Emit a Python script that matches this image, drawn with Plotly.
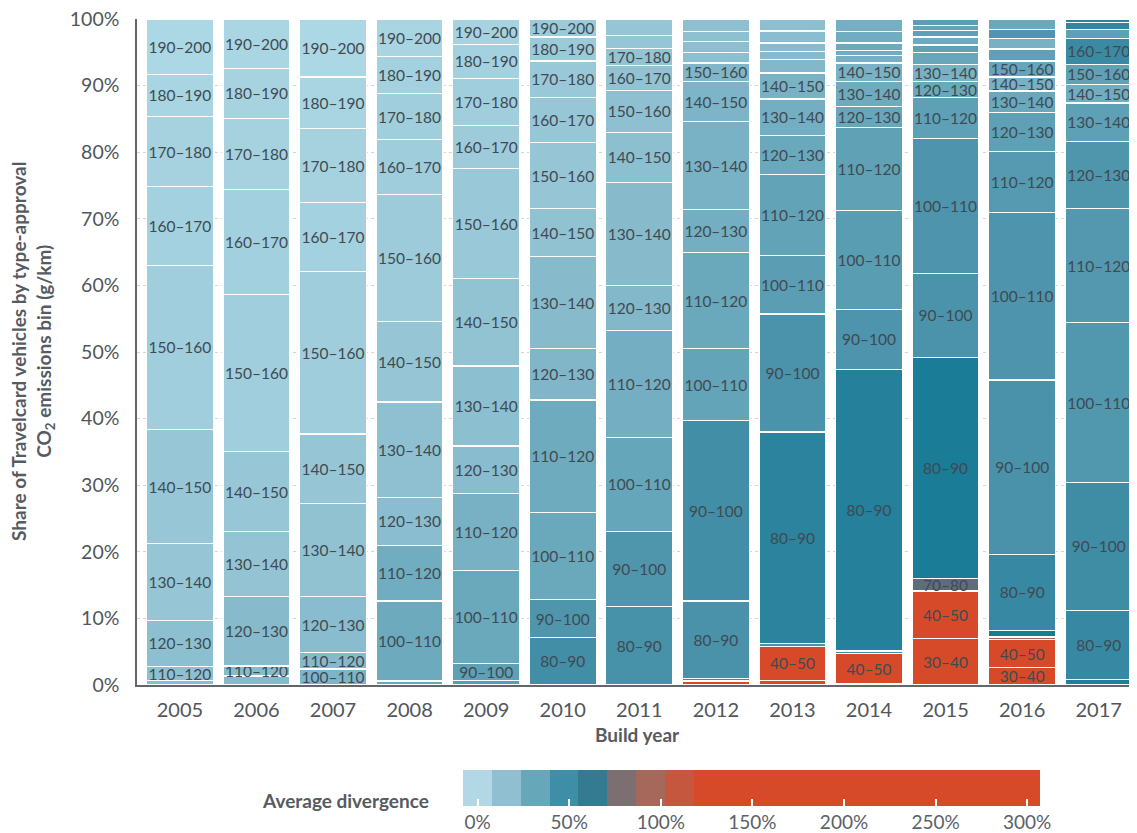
import plotly.graph_objects as go

FONT = "Lato"

years = [2005, 2006, 2007, 2008, 2009, 2010, 2011, 2012, 2013, 2014, 2015, 2016, 2017]
bins = ["30–40", "40–50", "50–60", "60–70", "70–80", "80–90", "90–100", "100–110",
        "110–120", "120–130", "130–140", "140–150", "150–160", "160–170",
        "170–180", "180–190", "190–200"]

# share (%) of vehicles in each bin, bottom (30–40) to top (190–200)
s2005 = [0, 0, 0, 0, 0, 0, 0, 0.65, 2.15, 6.9, 11.5, 17.2, 24.6, 11.8, 10.6, 6.3, 8.3]
s2006 = [0, 0, 0, 0, 0, 0, 0, 1.35, 1.5, 10.45, 9.7, 12.1, 23.5, 15.8, 10.7, 7.5, 7.4]
s2007 = [0, 0, 0, 0, 0, 0, 0, 2.4, 2.45, 8.45, 13.9, 10.5, 24.4, 10.4, 11.0, 7.8, 8.7]
s2008 = [0, 0, 0, 0, 0, 0, 0.6, 12.0, 8.4, 7.2, 14.3, 12.1, 19.1, 8.2, 6.9, 5.6, 5.6]
s2009 = [0, 0, 0, 0, 0, 0.65, 2.55, 14.0, 11.6, 7.1, 12.0, 13.1, 16.5, 6.5, 7.1, 5.1, 3.8]
s2010 = [0, 0, 0, 0, 0, 7.1, 5.7, 13.1, 16.9, 7.7, 13.8, 7.2, 9.9, 6.8, 5.5, 3.6, 2.7]
s2011 = [0, 0, 0, 0, 0, 11.8, 11.3, 14.1, 16.0, 6.8, 15.5, 7.5, 6.3, 3.7, 2.6, 1.9, 2.5]
s2012 = [0, 0.6, 0.4, 0, 0, 11.6, 27.1, 10.8, 14.4, 6.5, 13.2, 6.0, 2.8, 1.6, 1.6, 1.5, 1.9]
s2013 = [0.7, 5.1, 0, 0, 0.4, 31.8, 17.7, 8.8, 12.1, 5.9, 5.5, 3.9, 2.0, 1.2, 1.3, 1.8, 1.8]
s2014 = [0.2, 4.5, 0, 0, 0.4, 42.3, 9.0, 14.8, 12.5, 3.2, 3.7, 2.8, 1.1, 0.8, 1.1, 1.7, 1.9]
s2015 = [7.0, 7.1, 0, 0, 1.9, 33.2, 12.6, 20.3, 6.1, 2.4, 2.6, 1.8, 1.1, 1.2, 1.0, 0.7, 1.0]
s2016 = [2.6, 4.2, 0.4, 0, 1.0, 11.4, 26.2, 25.1, 9.2, 5.9, 3.2, 2.1, 2.4, 1.8, 1.6, 1.3, 1.6]
s2017 = [0, 0, 0, 0, 0.8, 10.4, 19.2, 24.0, 17.1, 10.1, 5.8, 2.8, 3.0, 3.9, 1.3, 1.1, 0.5]

# average divergence (%) of each bin
d2005 = [0, 0, 0, 0, 0, 0, 0, 25, 22, 23, 18, 17, 12, 10, 9, 7, 5]
d2006 = [0, 0, 0, 0, 0, 0, 0, 27, 26, 26, 19, 17, 12, 11, 9, 8, 6]
d2007 = [0, 0, 0, 0, 0, 0, 0, 31, 27, 25, 21, 18, 13, 10, 9, 7, 5]
d2008 = [0, 0, 0, 0, 0, 0, 40, 38, 36, 24, 22, 18, 14, 13, 12, 10, 7]
d2009 = [0, 0, 0, 0, 0, 47, 45, 39, 33, 25, 23, 20, 16, 14, 12, 10, 8]
d2010 = [0, 0, 0, 0, 0, 58, 52, 39, 37, 29, 26, 21, 18, 17, 16, 15, 15]
d2011 = [0, 0, 0, 0, 0, 56, 52, 41, 35, 28, 26, 23, 22, 20, 19, 18, 18]
d2012 = [0, 150, 100, 0, 0, 55, 58, 42, 39, 35, 32, 31, 29, 23, 23, 22, 22]
d2013 = [150, 150, 0, 0, 55, 69, 54, 46, 43, 39, 35, 32, 28, 26, 25, 24, 23]
d2014 = [150, 150, 0, 0, 60, 73, 53, 47, 44, 40, 37, 32, 34, 36, 38, 36, 34]
d2015 = [150, 150, 0, 0, 90, 78, 54, 53, 45, 39, 32, 40, 44, 38, 45, 42, 46]
d2016 = [150, 150, 100, 0, 80, 64, 55, 53, 49, 45, 39, 33, 41, 45, 33, 52, 39]
d2017 = [0, 0, 0, 0, 75, 64, 60, 51, 50, 52, 45, 36, 44, 62, 45, 66, 68]

legend_ticks = [0, 50, 100, 150, 200, 250, 300]

shares = dict(zip(years, [s2005, s2006, s2007, s2008, s2009, s2010, s2011,
                          s2012, s2013, s2014, s2015, s2016, s2017]))
divs = dict(zip(years, [d2005, d2006, d2007, d2008, d2009, d2010, d2011,
                        d2012, d2013, d2014, d2015, d2016, d2017]))

unlabeled = {(2011, "190–200"), (2013, "150–160")}
extra_labels = {(2006, "110–120"), (2015, "70–80")}

bar_scale = [
    [0 / 300, "#b4dce8"], [10 / 300, "#a4d1df"], [20 / 300, "#92c3d3"],
    [30 / 300, "#7fb5c8"], [40 / 300, "#68a7bb"], [50 / 300, "#5398af"],
    [60 / 300, "#3f8ca5"], [70 / 300, "#2a829d"], [80 / 300, "#167b96"],
    [90 / 300, "#5e6e78"], [100 / 300, "#9a6a60"], [115 / 300, "#c5573e"],
    [130 / 300, "#d64a2a"], [1.0, "#d64a2a"],
]

legend_colors = ["#b1d8e4", "#8fbfd0", "#67a7ba", "#3e8ea8", "#347a90",
                 "#7b6f72", "#a5685b", "#c5573e", "#d64a2a"]
legend_scale = []
for k, c in enumerate(legend_colors):
    lo = 0.05 * k
    hi = 0.05 * (k + 1) if k < len(legend_colors) - 1 else 1.0
    legend_scale += [[lo, c], [hi, c]]

fig = go.Figure()
xcats = [str(y) for y in years]
for i, b in enumerate(bins):
    yv, cv, tv = [], [], []
    for yr in years:
        v = shares[yr][i]
        yv.append(v if v > 0 else None)
        cv.append(divs[yr][i])
        show = (v >= 2.0 and (yr, b) not in unlabeled) or (yr, b) in extra_labels
        tv.append(b if (v > 0 and show) else None)
    fig.add_trace(go.Bar(
        x=xcats, y=yv, text=tv,
        textposition="inside", insidetextanchor="middle", textangle=0,
        textfont=dict(family=FONT, size=15.5, color="#3f4a52"),
        marker=dict(color=cv, colorscale=bar_scale, cmin=0, cmax=300,
                    line=dict(color="white", width=1.2)),
        hoverinfo="skip", showlegend=False,
    ))

fig.add_trace(go.Scatter(
    x=[None], y=[None], mode="markers", showlegend=False, hoverinfo="skip",
    marker=dict(
        color=[0], colorscale=legend_scale, cmin=-8, cmax=307, showscale=True,
        colorbar=dict(
            orientation="h", xref="paper", yref="paper",
            x=0.6145, xanchor="center", y=-0.1276, yanchor="top",
            len=577, lenmode="pixels", thickness=36, thicknessmode="pixels",
            outlinewidth=0, xpad=0, ypad=0,
            tickvals=legend_ticks, ticktext=[f"{t}%" for t in legend_ticks],
            ticks="inside", ticklen=7, tickcolor="white", tickwidth=1.5,
            tickfont=dict(family=FONT, size=19, color="#5b6167"),
        ),
    ),
))

# page body has an 8px margin, so the figure is 8px smaller than the window
fig.update_layout(
    width=1129, height=825,
    margin=dict(l=129, r=0, t=11, b=148, autoexpand=False),
    barmode="stack", bargap=0.125,
    plot_bgcolor="white", paper_bgcolor="white",
    font=dict(family=FONT, color="#555b60"),
    uniformtext=dict(minsize=15.5, mode="show"),
    xaxis=dict(
        type="category", range=[-0.56, 12.5],
        showline=True, linecolor="#60666b", linewidth=2,
        ticks="outside", ticklen=6, tickcolor="rgba(0,0,0,0)",
        tickfont=dict(family=FONT, size=20, color="#50565b"),
        showgrid=False, zeroline=False, automargin=False,
    ),
    yaxis=dict(
        range=[0, 100], tickvals=[0, 10, 20, 30, 40, 50, 60, 70, 80, 90, 100],
        ticktext=[f"{v}%" for v in range(0, 101, 10)],
        showline=True, linecolor="#60666b", linewidth=1.5,
        ticks="outside", ticklen=12, tickcolor="rgba(0,0,0,0)",
        tickfont=dict(family=FONT, size=19.5, color="#50565b"),
        ticklabeloverflow="allow",
        showgrid=True, gridcolor="#d6d6d6", griddash="dot", gridwidth=1,
        zeroline=False, automargin=False,
    ),
    annotations=[
        dict(text="Share of Travelcard vehicles by type-approval<br>CO<sub>2</sub> emissions bin (g/km)",
             xref="paper", yref="paper", x=-0.105, y=0.5, xanchor="center", yanchor="middle",
             textangle=-90, showarrow=False,
             font=dict(family=FONT, size=19, color="#555b60", weight="bold")),
        dict(text="Build year", xref="paper", yref="paper", x=0.5, y=-0.075,
             xanchor="center", yanchor="middle", showarrow=False,
             font=dict(family=FONT, size=19, color="#555b60", weight="bold")),
        dict(text="Average divergence", xref="paper", yref="paper", x=0.208, y=-0.174,
             xanchor="center", yanchor="middle", showarrow=False,
             font=dict(family=FONT, size=19, color="#555b60", weight="bold")),
    ],
)

fig.write_html("out.html")
